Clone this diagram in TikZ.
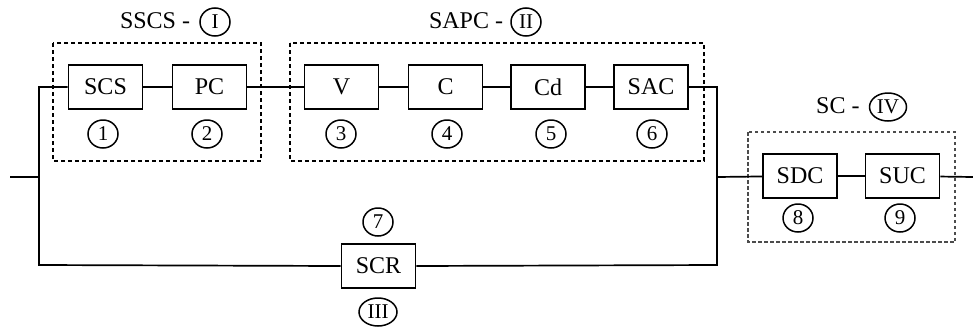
\documentclass[tikz,border=0pt]{standalone}
\usepackage{fontspec}
\setmainfont{Liberation Serif}
\usetikzlibrary{shapes.geometric}

\tikzset{
  unit/.style={draw, line width=1.6pt, fill=white, minimum width=74pt, minimum height=44pt,
               inner sep=0pt, font=\fontsize{24}{27}\selectfont},
  tag/.style={draw, ellipse, line width=1.5pt, minimum width=30pt, minimum height=28pt,
              inner xsep=1pt, inner ysep=0pt, font=\fontsize{21}{24}\selectfont},
  grouptitle/.style={anchor=east, inner sep=0pt, font=\fontsize{24}{27}\selectfont},
  wire/.style={line width=1.7pt},
  groupbox/.style={dashed, line width=1.4pt, dash pattern=on 4pt off 3pt},
  lightgroup/.style={dashed, line width=1.1pt, draw=black!70, dash pattern=on 3.5pt off 2.5pt},
}

\begin{document}
\begin{tikzpicture}[x=1pt, y=-1pt]
  \useasboundingbox (0,0) rectangle (973,327);

  % subsystem groups
  \draw[groupbox] (53,43) rectangle (261,161);
  \draw[groupbox] (290,43) rectangle (704,161);
  \draw[lightgroup] (748,132) rectangle (955,242);

  % components
  \node[unit] (scs) at (105.5,87) {SCS};
  \node[unit] (pc)  at (209.5,87) {PC};
  \node[unit] (v)   at (341.5,87) {V};
  \node[unit] (c)   at (445.5,87) {C};
  \node[unit] (cd)  at (548,87)   {Cd};
  \node[unit] (sac) at (651,87)   {SAC};
  \node[unit] (scr) at (378.5,266) {SCR};
  \node[unit] (sdc) at (800,176)  {SDC};
  \node[unit] (suc) at (902.5,176) {SUC};

  % component numbers
  \node[tag] (n1) at (103,134) {1};
  \node[tag] (n2) at (207,134) {2};
  \node[tag] (n3) at (341,134) {3};
  \node[tag] (n4) at (447,134) {4};
  \node[tag] (n5) at (551,134) {5};
  \node[tag] (n6) at (652,134) {6};
  \node[tag] (n7) at (378,222) {7};
  \node[tag] (n8) at (798,218) {8};
  \node[tag] (n9) at (900,218) {9};

  % subsystem labels
  \node[tag] (g1) at (215,22) {I};
  \node[grouptitle] (t1) at ([xshift=-9pt,yshift=1pt]g1.west) {SSCS -};
  \node[tag] (g2) at (526,22) {II};
  \node[grouptitle] (t2) at ([xshift=-7pt,yshift=1pt]g2.west) {SAPC -};
  \node[tag, minimum width=38pt] (g3) at (378,312) {III};
  \node[tag, minimum width=37pt] (g4) at (888,107) {IV};
  \node[grouptitle] (t4) at ([xshift=-9pt,yshift=1pt]g4.west) {SC -};

  % junction points
  \coordinate (in)  at (10,177);
  \coordinate (jl)  at (39,177);
  \coordinate (tl)  at (39,87);
  \coordinate (bl)  at (39,265);
  \coordinate (tr)  at (717,87);
  \coordinate (jr)  at (717,177);
  \coordinate (br)  at (717,265);
  \coordinate (out) at (973,177);

  % wiring
  \draw[wire] (in) -- (jl);
  \draw[wire] (scs.west) -- (tl) -- (bl) -- (scr.west);
  \draw[wire] (scs) -- (pc);
  \draw[wire] (pc) -- (v);
  \draw[wire] (v) -- (c);
  \draw[wire] (c) -- (cd);
  \draw[wire] (cd) -- (sac);
  \draw[wire] (sac.east) -- (tr) -- (br) -- (scr.east);
  \draw[wire] (jr) -- (sdc);
  \draw[wire] (sdc) -- (suc);
  \draw[wire] (suc) -- (out);
\end{tikzpicture}
\end{document}
